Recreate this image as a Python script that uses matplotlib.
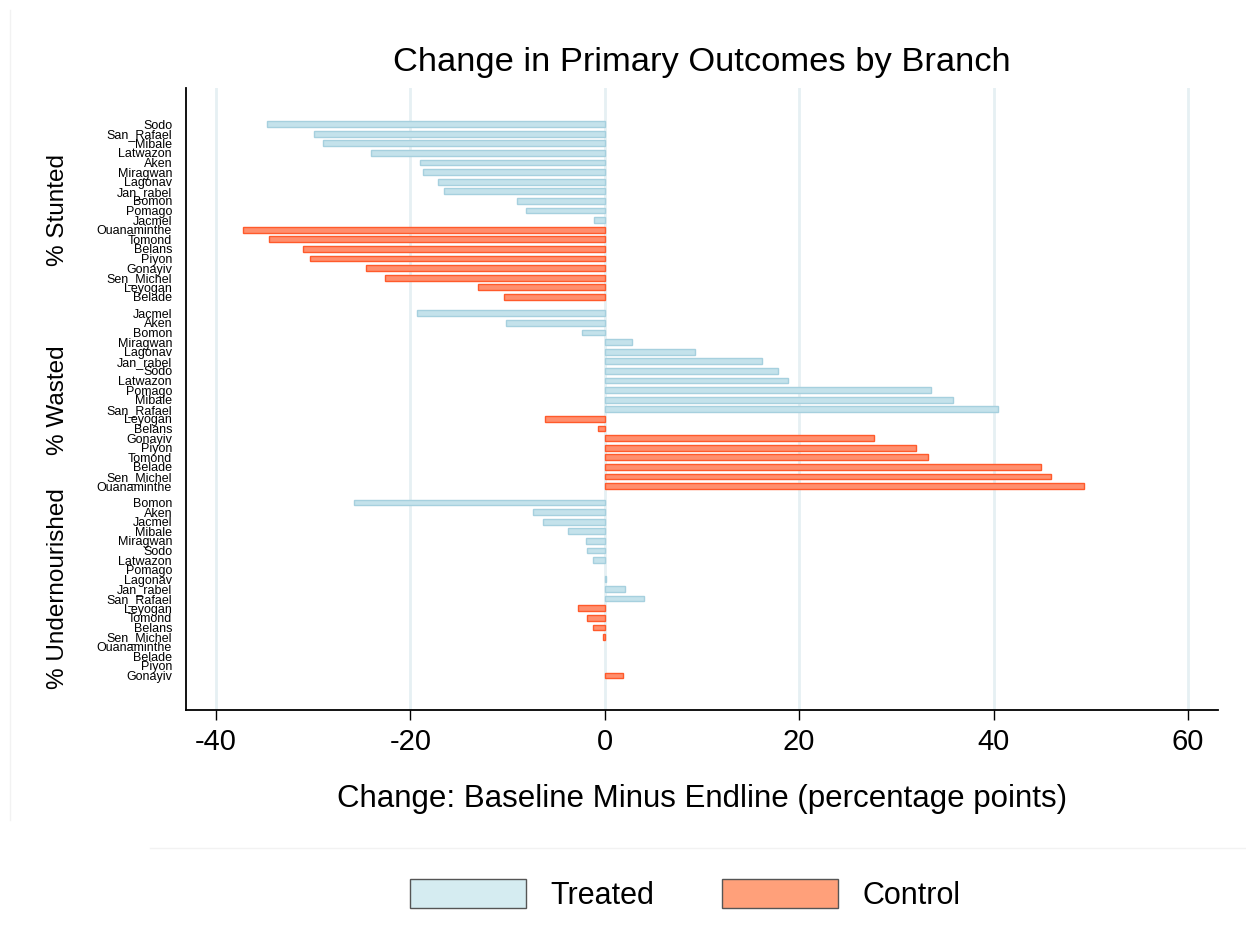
import matplotlib
matplotlib.use("Agg")
import matplotlib.pyplot as plt
import matplotlib.transforms as mtransforms
from matplotlib.lines import Line2D
from matplotlib.patches import Patch

plt.rcParams["font.family"] = ["Liberation Sans", "DejaVu Sans"]
plt.rcParams["axes.unicode_minus"] = False

# --- data (percentage points, baseline minus endline) ---
stunted_names = ["Sodo", "San_Rafael", "Mibale", "Latwazon", "Aken", "Miragwan",
                 "Lagonav", "Jan_rabel", "Bomon", "Pomago", "Jacmel",
                 "Ouanaminthe", "Tomond", "Belans", "Piyon", "Gonayiv",
                 "Sen_Michel", "Leyogan", "Belade"]
stunted_vals = [-34.8, -29.9, -29.0, -24.1, -19.0, -18.7, -17.2, -16.5, -9.0,
                -8.1, -1.1, -37.2, -34.6, -31.1, -30.3, -24.6, -22.6, -13.0, -10.4]
stunted_treated = 11

wasted_names = ["Jacmel", "Aken", "Bomon", "Miragwan", "Lagonav", "Jan_rabel",
                "Sodo", "Latwazon", "Pomago", "Mibale", "San_Rafael",
                "Leyogan", "Belans", "Gonayiv", "Piyon", "Tomond", "Belade",
                "Sen_Michel", "Ouanaminthe"]
wasted_vals = [-19.3, -10.2, -2.3, 2.8, 9.3, 16.2, 17.8, 18.9, 33.6, 35.8, 40.5,
               -6.2, -0.7, 27.7, 32.0, 33.3, 44.9, 45.9, 49.3]
wasted_treated = 11

under_names = ["Bomon", "Aken", "Jacmel", "Mibale", "Miragwan", "Sodo",
               "Latwazon", "Pomago", "Lagonav", "Jan_rabel", "San_Rafael",
               "Leyogan", "Tomond", "Belans", "Sen_Michel", "Ouanaminthe",
               "Belade", "Piyon", "Gonayiv"]
under_vals = [-25.8, -7.4, -6.4, -3.8, -1.9, -1.8, -1.2, 0.0, 0.1, 2.1, 4.0,
              -2.8, -1.8, -1.2, -0.2, 0.0, 0.0, 0.0, 1.9]
under_treated = 11

groups = [
    ("% Stunted", stunted_names, stunted_vals, stunted_treated),
    ("% Wasted", wasted_names, wasted_vals, wasted_treated),
    ("% Undernourished", under_names, under_vals, under_treated),
]
x_ticks = [-40, -20, 0, 20, 40, 60]

TREATED_FILL, TREATED_EDGE = "#c4e2eb", "#a6d0de"
CONTROL_FILL, CONTROL_EDGE = "#ff8f6e", "#ff5a2b"

fig = plt.figure(figsize=(12.46, 9.41), dpi=100)
ax = fig.add_axes([186 / 1246, 1 - 710 / 941, 1032 / 1246, 622 / 941])

group_gap = 0.7
pos, labels = [], []
start = 0.0
trans = mtransforms.blended_transform_factory(ax.transAxes, ax.transData)
for title, names, vals, n_treat in groups:
    ys = [start + i for i in range(len(names))]
    colors = [TREATED_FILL if i < n_treat else CONTROL_FILL for i in range(len(names))]
    edges = [TREATED_EDGE if i < n_treat else CONTROL_EDGE for i in range(len(names))]
    # zero-length bars: no outline, so nothing is drawn
    lws = [0 if v == 0 else 1.0 for v in vals]
    ax.barh(ys, vals, height=0.6, color=colors, edgecolor=edges, linewidth=lws, zorder=3)
    ax.text(-0.124, (ys[0] + ys[-1]) / 2, title, transform=trans, rotation=90,
            ha="center", va="center", fontsize=17.5)
    pos += ys
    labels += names
    start = ys[-1] + 1 + group_gap

ax.set_yticks(pos, labels, fontsize=9)
ax.tick_params(axis="y", length=0, pad=10)
ax.set_ylim(61.0, -3.75)
ax.set_xlim(-43.1, 63.1)
ax.set_xticks(x_ticks)
ax.tick_params(axis="x", length=7, width=1, labelsize=21, pad=6)
for t in x_ticks:
    ax.axvline(t, color="#e6f0f3", lw=2, zorder=1)

for s in ("top", "right"):
    ax.spines[s].set_visible(False)
for s in ("left", "bottom"):
    ax.spines[s].set_linewidth(1.3)

ax.set_xlabel("Change: Baseline Minus Endline (percentage points)", fontsize=22.5, labelpad=20)
fig.text(702 / 1246, 1 - 62 / 941, "Change in Primary Outcomes by Branch",
         ha="center", va="center", fontsize=24.8)

# faint outer region borders
fig.add_artist(Line2D([10 / 1246, 10 / 1246], [1 - 10 / 941, 1 - 820 / 941],
                      color="#f2f2f2", lw=1))
fig.add_artist(Line2D([150 / 1246, 1.0], [1 - 848 / 941, 1 - 848 / 941],
                      color="#f2f2f2", lw=1))

handles = [Patch(facecolor="#d5ecf1", edgecolor="#555555", label="Treated"),
           Patch(facecolor="#ffa07a", edgecolor="#555555", label="Control")]
fig.legend(handles=handles, loc="center", bbox_to_anchor=(685 / 1246, 1 - 895 / 941),
           ncol=2, frameon=False, fontsize=22, handlelength=3.8, handleheight=1.05,
           handletextpad=0.8, columnspacing=2.2)

fig.savefig("out.png", dpi=100)
